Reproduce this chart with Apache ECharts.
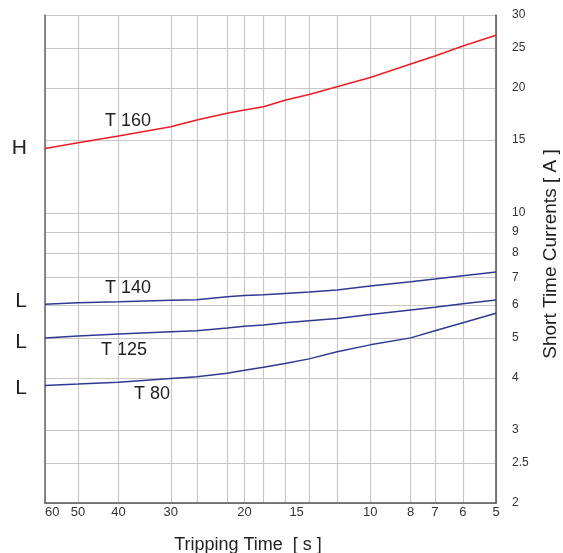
<!DOCTYPE html>
<html><head><meta charset="utf-8">
<script src="https://cdn.jsdelivr.net/npm/echarts@6/dist/echarts.min.js"></script>
<style>html,body{margin:0;padding:0;background:#fff}#c{width:563px;height:553px}</style>
</head><body><div id="c"></div>
<script>
// Tripping time [s] at which each curve was read
const times = [60, 50, 40, 30, 26, 22, 20, 18, 16, 14, 12, 10, 8, 7, 6, 5];
// Short time currents [A]
const t160 = [14.3, 14.77, 15.33, 16.14, 16.75, 17.39, 17.7, 18.03, 18.69, 19.3, 20.15, 21.2, 22.85, 23.9, 25.26, 26.8];
const t140 = [6.03, 6.08, 6.11, 6.16, 6.18, 6.28, 6.33, 6.35, 6.40, 6.45, 6.52, 6.67, 6.83, 6.93, 7.06, 7.21];
const t125 = [5.0, 5.05, 5.11, 5.17, 5.20, 5.28, 5.33, 5.37, 5.44, 5.50, 5.57, 5.69, 5.84, 5.93, 6.04, 6.17];
const t80 = [3.84, 3.87, 3.91, 3.99, 4.03, 4.11, 4.18, 4.25, 4.34, 4.45, 4.63, 4.81, 5.00, 5.20, 5.44, 5.73];
const seriesNames = ['T 160', 'T 140', 'T 125', 'T 80'];
const classLetters = ['H', 'L', 'L', 'L'];
// grid / tick values
const xGridValues = [60, 50, 40, 30, 26, 22, 20, 18, 16, 14, 12, 10, 8, 7, 6, 5];
const xLabelValues = [60, 50, 40, 30, 20, 15, 10, 8, 7, 6, 5];
const yTickValues = [2, 2.5, 3, 4, 5, 6, 7, 8, 9, 10, 15, 20, 25, 30];

const FONT = '"Liberation Sans", Arial, Helvetica, sans-serif';
const RED = '#ec1c24';
const BLUE = '#2e3a92';

function mk(name, vals, color, letter, letterOffset) {
  return {
    name: name, type: 'line', xAxisIndex: 0, yAxisIndex: 0,
    showSymbol: true, symbol: 'circle', symbolSize: 0,
    lineStyle: { color: color, width: 1.5 }, itemStyle: { color: color },
    emphasis: { disabled: true }, silent: true, animation: false,
    data: times.map((t, i) => i === 0 ? {
      value: [t, vals[i]],
      label: { show: true, formatter: letter, position: 'left', distance: 18,
        offset: [0, letterOffset], fontSize: 21, color: '#222', fontFamily: FONT }
    } : [t, vals[i]])
  };
}

const chart = echarts.init(document.getElementById('c'), null, { renderer: 'canvas' });
chart.setOption({
  animation: false,
  backgroundColor: '#fff',
  grid: { left: 45, right: 67, top: 15, bottom: 50, containLabel: false, outerBoundsMode: 'none' },
  xAxis: {
    type: 'log', logBase: 10, min: 5, max: 60, inverse: true,
    name: 'Tripping Time  [ s ]', nameLocation: 'middle', nameGap: 33,
    nameTextStyle: { fontSize: 18, color: '#222', fontFamily: FONT, padding: [0, 45, 0, 0] },
    axisLine: { show: true, lineStyle: { color: '#555', width: 1.5 } },
    axisTick: { show: false, customValues: xGridValues },
    axisLabel: { customValues: xLabelValues, fontSize: 13, color: '#333', fontFamily: FONT,
      margin: 3, alignMinLabel: 'left', showMinLabel: true, showMaxLabel: true },
    splitLine: { show: true, lineStyle: { color: '#c8c8c8', width: 1.2 } }
  },
  yAxis: [{
    type: 'log', logBase: 10, min: 2, max: 30, position: 'right',
    name: 'Short Time Currents [ A ]', nameLocation: 'middle', nameGap: 45, nameRotate: 90,
    nameTextStyle: { fontSize: 19, color: '#222', fontFamily: FONT, padding: [0, 0, 0, 10] },
    axisLine: { show: true, lineStyle: { color: '#555', width: 1.5 } },
    axisTick: { show: false, customValues: yTickValues },
    axisLabel: { customValues: yTickValues, fontSize: 12, color: '#333', fontFamily: FONT,
      margin: 16, showMinLabel: true, showMaxLabel: true },
    splitLine: { show: true, lineStyle: { color: '#c8c8c8', width: 1.2 } }
  }, {
    type: 'log', logBase: 10, min: 2, max: 30, position: 'left',
    axisLine: { show: true, lineStyle: { color: '#666', width: 1.5 } },
    axisTick: { show: false }, axisLabel: { show: false }, splitLine: { show: false }
  }],
  graphic: [
    { type: 'text', x: 128, y: 121, style: { text: seriesNames[0], fontSize: 18, fill: '#222', fontFamily: FONT, textAlign: 'center', textVerticalAlign: 'middle' } },
    { type: 'text', x: 128, y: 288, style: { text: seriesNames[1], fontSize: 18, fill: '#222', fontFamily: FONT, textAlign: 'center', textVerticalAlign: 'middle' } },
    { type: 'text', x: 124, y: 350, style: { text: seriesNames[2], fontSize: 18, fill: '#222', fontFamily: FONT, textAlign: 'center', textVerticalAlign: 'middle' } },
    { type: 'text', x: 152, y: 394, style: { text: seriesNames[3], fontSize: 18, fill: '#222', fontFamily: FONT, textAlign: 'center', textVerticalAlign: 'middle' } }
  ],
  series: [
    mk(seriesNames[0], t160, RED, classLetters[0], 0),
    mk(seriesNames[1], t140, BLUE, classLetters[1], -3),
    mk(seriesNames[2], t125, BLUE, classLetters[2], 4),
    mk(seriesNames[3], t80, BLUE, classLetters[3], 3)
  ]
});
</script>
</body></html>
